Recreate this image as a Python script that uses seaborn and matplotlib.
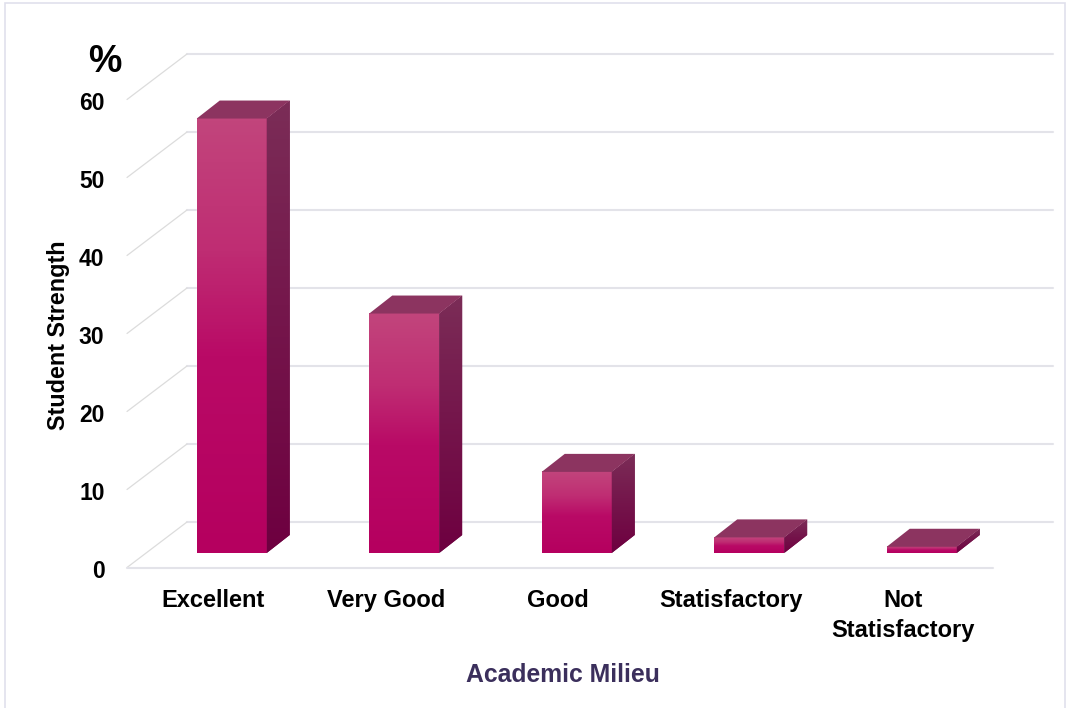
import numpy as np
import pandas as pd
import seaborn as sns
import matplotlib
matplotlib.use("Agg")
import matplotlib.pyplot as plt
from matplotlib.colors import LinearSegmentedColormap
from matplotlib.patches import Polygon, Rectangle
from matplotlib.transforms import ScaledTranslation

categories = ["Excellent", "Very Good", "Good", "Statisfactory", "Not\nStatisfactory"]
values = [55.7, 30.7, 10.4, 2.0, 0.8]
y_ticks = [0, 10, 20, 30, 40, 50, 60]

W, H = 1066, 708
PX_UNIT_Y = 7.8
PX_UNIT_X = 172.5
LEFT, BASE = 145.5, 553.0

sns.set_theme(style="white")
plt.rcParams["font.family"] = ["Liberation Sans", "DejaVu Sans"]
fig = plt.figure(figsize=(W / 100, H / 100), dpi=100, facecolor="white")
ax = fig.add_axes([LEFT / W, 1 - BASE / H, 862.5 / W, 60 * PX_UNIT_Y / H])
ax.patch.set_alpha(0)

df = pd.DataFrame({"cat": categories, "val": values})
sns.barplot(data=df, x="cat", y="val", color="#b5005f", width=70 / PX_UNIT_X,
            saturation=1, ax=ax, zorder=2, errorbar=None)
ax.set_xlim(-0.5, 4.5)
ax.set_ylim(0, 60)
for s in ax.spines.values():
    s.set_visible(False)

# pixel offsets expressed in data units
dx_bar, dy_bar = 23 / PX_UNIT_X, 18 / PX_UNIT_Y
x_front0 = (127 - LEFT) / PX_UNIT_X - 0.5
x_back0 = (187 - LEFT) / PX_UNIT_X - 0.5
x_front1 = (993 - LEFT) / PX_UNIT_X - 0.5
x_back1 = (1053 - LEFT) / PX_UNIT_X - 0.5
y_front = -14.5 / PX_UNIT_Y
y_back = 31 / PX_UNIT_Y

grid = "#e3e3e9"
for t in y_ticks:
    ax.plot([x_back0, x_back1], [t + y_back] * 2, color=grid, lw=1.5, zorder=1, clip_on=False)
    ax.plot([x_front0, x_back0], [t + y_front, t + y_back], color="#dcdcdc", lw=0.9, zorder=1, clip_on=False)
ax.plot([x_front0, x_front1], [y_front, y_front], color=grid, lw=1.5, zorder=1, clip_on=False)

front_grad = LinearSegmentedColormap.from_list(
    "front", [(0, "#c2457c"), (0.3, "#bf2d73"), (0.55, "#b90a66"), (1, "#b5005f")])
side_grad = LinearSegmentedColormap.from_list(
    "side", [(0, "#7b2d57"), (0.45, "#75174c"), (1, "#6e0040")])
ramp = np.linspace(0, 1, 128).reshape(-1, 1)

for bar in list(ax.patches):
    x0, w, h = bar.get_x(), bar.get_width(), bar.get_height()
    x1 = x0 + w
    im = ax.imshow(ramp, cmap=front_grad, extent=(x0, x1, 0, h), origin="upper",
                   aspect="auto", zorder=3, vmin=0, vmax=1)
    side = Polygon([(x1, 0), (x1 + dx_bar, dy_bar), (x1 + dx_bar, h + dy_bar), (x1, h)],
                   closed=True, fc="#75174c", ec="none", zorder=3, clip_on=False)
    ax.add_patch(side)
    ims = ax.imshow(ramp, cmap=side_grad, extent=(x1, x1 + dx_bar, 0, h + dy_bar),
                    origin="upper", aspect="auto", zorder=3.1, vmin=0, vmax=1)
    ims.set_clip_path(side)
    top = Polygon([(x0, h), (x1, h), (x1 + dx_bar, h + dy_bar), (x0 + dx_bar, h + dy_bar)],
                  closed=True, fc="#8c3460", ec="none", zorder=3.2, clip_on=False)
    ax.add_patch(top)
ax.set_xlim(-0.5, 4.5)
ax.set_ylim(0, 60)

ax.set_yticks(y_ticks)
ax.set_yticklabels([str(t) for t in y_ticks])
ax.tick_params(axis="y", length=0, pad=29.5, labelsize=16.5, labelcolor="black")
ax.tick_params(axis="x", length=0, pad=26, labelsize=17, labelcolor="black")
off_y = ScaledTranslation(0, -15.5 / 100, fig.dpi_scale_trans)
off_x = ScaledTranslation(-18.5 / 100, 0, fig.dpi_scale_trans)
for lab in ax.get_yticklabels():
    lab.set_fontweight("bold")
    lab.set_transform(lab.get_transform() + off_y)
for lab in ax.get_xticklabels():
    lab.set_fontweight("bold")
    lab.set_linespacing(1.38)
    lab.set_transform(lab.get_transform() + off_x)

ax.set_xlabel("")
ax.set_ylabel("")
fig.text(59 / W, 1 - 335 / H, "Student Strength", rotation=90, ha="center", va="center",
         fontsize=16.8, fontweight="bold", color="black")
fig.text(563 / W, 1 - 674.5 / H, "Academic Milieu", ha="center", va="center",
         fontsize=17.8, fontweight="bold", color="#3b2f5c")
fig.text(105 / W, 1 - 62 / H, "%", ha="center", va="center", fontsize=27, fontweight="bold", color="black")

fig.add_artist(Rectangle((5 / W, -0.01), (W - 6) / W, 1 - 3 / H + 0.01, transform=fig.transFigure,
                         fc="none", ec="#e0e0ec", lw=1.2, zorder=0))
fig.savefig("out.png", dpi=100, facecolor="white")
